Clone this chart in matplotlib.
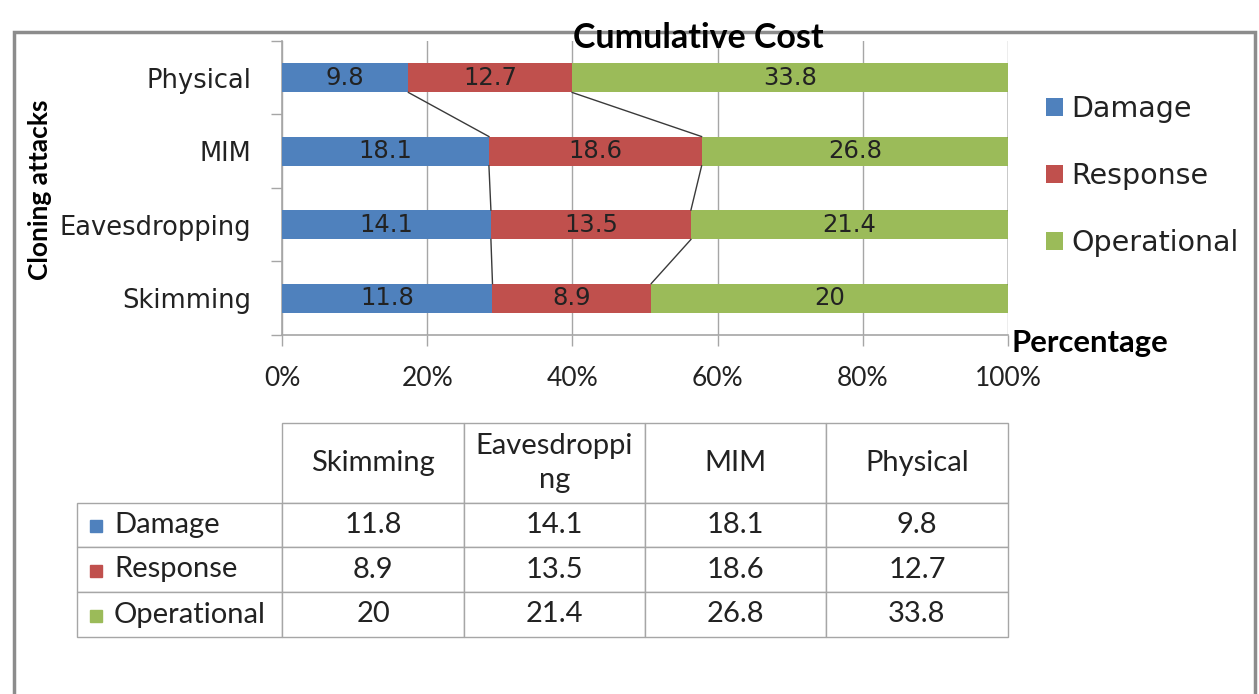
import matplotlib
matplotlib.use("Agg")
import matplotlib.pyplot as plt
from matplotlib.patches import Rectangle
import numpy as np

# ---- data ----
categories = ["Skimming", "Eavesdropping", "MIM", "Physical"]
series_names = ["Damage", "Response", "Operational"]
damage = [11.8, 14.1, 18.1, 9.8]
response = [8.9, 13.5, 18.6, 12.7]
operational = [20, 21.4, 26.8, 33.8]
colors = ["#4F81BD", "#C0504D", "#9BBB59"]
xtick_vals = [0, 0.2, 0.4, 0.6, 0.8, 1.0]
xtick_labels = ["0%", "20%", "40%", "60%", "80%", "100%"]
table_header = ["Skimming", "Eavesdroppi\nng", "MIM", "Physical"]

W, H = 1259, 694
fig = plt.figure(figsize=(W / 100, H / 100), dpi=100)
fig.patch.set_facecolor("white")

def fx(px):
    return px / W

def fy(py):
    return 1 - py / H

TXT = "#222222"
GRID = "#A6A6A6"
VER = "DejaVu Sans"
CAL = ["Lato", "DejaVu Sans"]

# ---- main chart axes ----
ax_l, ax_r, ax_t, ax_b = 282, 1008, 41, 335
ax = fig.add_axes([fx(ax_l), fy(ax_b), fx(ax_r - ax_l), (ax_b - ax_t) / H])

vals = np.array([damage, response, operational], dtype=float)
totals = vals.sum(axis=0)
pct = vals / totals
y = np.arange(len(categories))
bh = 0.40
left = np.zeros(len(categories))
for k in range(3):
    ax.barh(y, pct[k], left=left, height=bh, color=colors[k], zorder=3,
            label=series_names[k])
    for i in range(len(categories)):
        ax.text(left[i] + pct[k][i] / 2, y[i], f"{vals[k][i]:g}",
                ha="center", va="center", fontsize=17.5, family=VER,
                color=TXT, zorder=5)
    left = left + pct[k]

# series lines
cum = np.cumsum(pct, axis=0)
for k in range(3):
    for i in range(len(categories) - 1):
        ax.plot([cum[k][i], cum[k][i + 1]], [y[i] + bh / 2, y[i + 1] - bh / 2],
                color="#3A3A3A", lw=1.0, zorder=4)

ax.set_xlim(0, 1)
ax.set_ylim(-0.5, len(categories) - 0.5)
ax.set_xticks(xtick_vals)
ax.set_xticklabels(xtick_labels, family=CAL, fontsize=19, color=TXT)
ax.set_yticks(y)
ax.set_yticklabels(categories, family=VER, fontsize=18.5, color=TXT)
ax.set_yticks(np.arange(-0.5, len(categories), 1.0), minor=True)
ax.tick_params(axis="y", which="major", length=0, pad=22)
ax.tick_params(axis="y", which="minor", length=8, width=1, color=GRID, direction="out")
ax.tick_params(axis="x", which="major", length=8, width=1, color=GRID, direction="out", pad=14)
for s in ["top", "right"]:
    ax.spines[s].set_visible(False)
for s in ["left", "bottom"]:
    ax.spines[s].set_color(GRID)
    ax.spines[s].set_linewidth(1.2)
ax.grid(axis="x", color=GRID, lw=1.0, zorder=1)
ax.set_axisbelow(True)

# titles / labels
fig.text(fx(698), fy(38), "Cumulative Cost", ha="center", va="center",
         family=CAL, fontsize=24.5, fontweight="bold", color="black")
fig.text(fx(1012), fy(343), "Percentage", ha="left", va="center",
         family=CAL, fontsize=22.3, fontweight="bold", color="black")
fig.text(fx(40), fy(190), "Cloning attacks", ha="center", va="center",
         rotation=90, family=CAL, fontsize=19, fontweight="bold", color="black")

# legend
handles, labels = ax.get_legend_handles_labels()
fig.legend(handles, labels, loc="upper left",
           bbox_to_anchor=(fx(1020), fy(69)), frameon=False,
           prop={"family": VER, "size": 20.5}, handlelength=0.6,
           handleheight=0.6, handletextpad=0.3, labelspacing=1.38,
           labelcolor=TXT)

# ---- data table ----
t_l, t_r, t_t, t_b = 77, 1008, 423, 637
tax = fig.add_axes([fx(t_l), fy(t_b), fx(t_r - t_l), (t_b - t_t) / H])
tax.set_axis_off()
cell_text = [[""] + table_header]
for k in range(3):
    cell_text.append([series_names[k]] + [f"{v:g}" for v in vals[k]])
col_w = [205, 182, 181, 181, 182]
row_h = [80, 44, 45, 45]
tbl = tax.table(cellText=cell_text, cellLoc="center", bbox=[0, 0, 1, 1])
tbl.auto_set_font_size(False)
for (r, c), cell in tbl.get_celld().items():
    cell.set_width(col_w[c])
    cell.set_height(row_h[r])
    cell.set_edgecolor(GRID)
    cell.set_linewidth(1.0)
    cell.get_text().set_fontsize(21)
    cell.get_text().set_family(CAL)
    cell.get_text().set_color(TXT)
    if r == 0 and c == 0:
        cell.visible_edges = ""
    if c == 0 and r > 0:
        cell.get_text().set_ha("left")
        cell._loc = "left"
        cell.PAD = 0.18
    if r == 0:
        cell.get_text().set_linespacing(1.4)

# colour keys in the table
tw = t_r - t_l
th = t_b - t_t
row_tops = [503, 547, 592]
for k in range(3):
    cy = row_tops[k] + row_h[k + 1] / 2 + 1
    tax.add_patch(Rectangle(((90 - t_l) / tw, (t_b - (cy + 6)) / th),
                            12 / tw, 12 / th, color=colors[k],
                            transform=tax.transAxes, clip_on=False, zorder=10))

# ---- outer frame ----
fig.add_artist(Rectangle((fx(14), fy(720)), fx(1255 - 14), (720 - 32) / H,
                         fill=False, ec="#8C8C8C", lw=2.5,
                         transform=fig.transFigure))

fig.savefig("out.png", dpi=100, facecolor="white")
